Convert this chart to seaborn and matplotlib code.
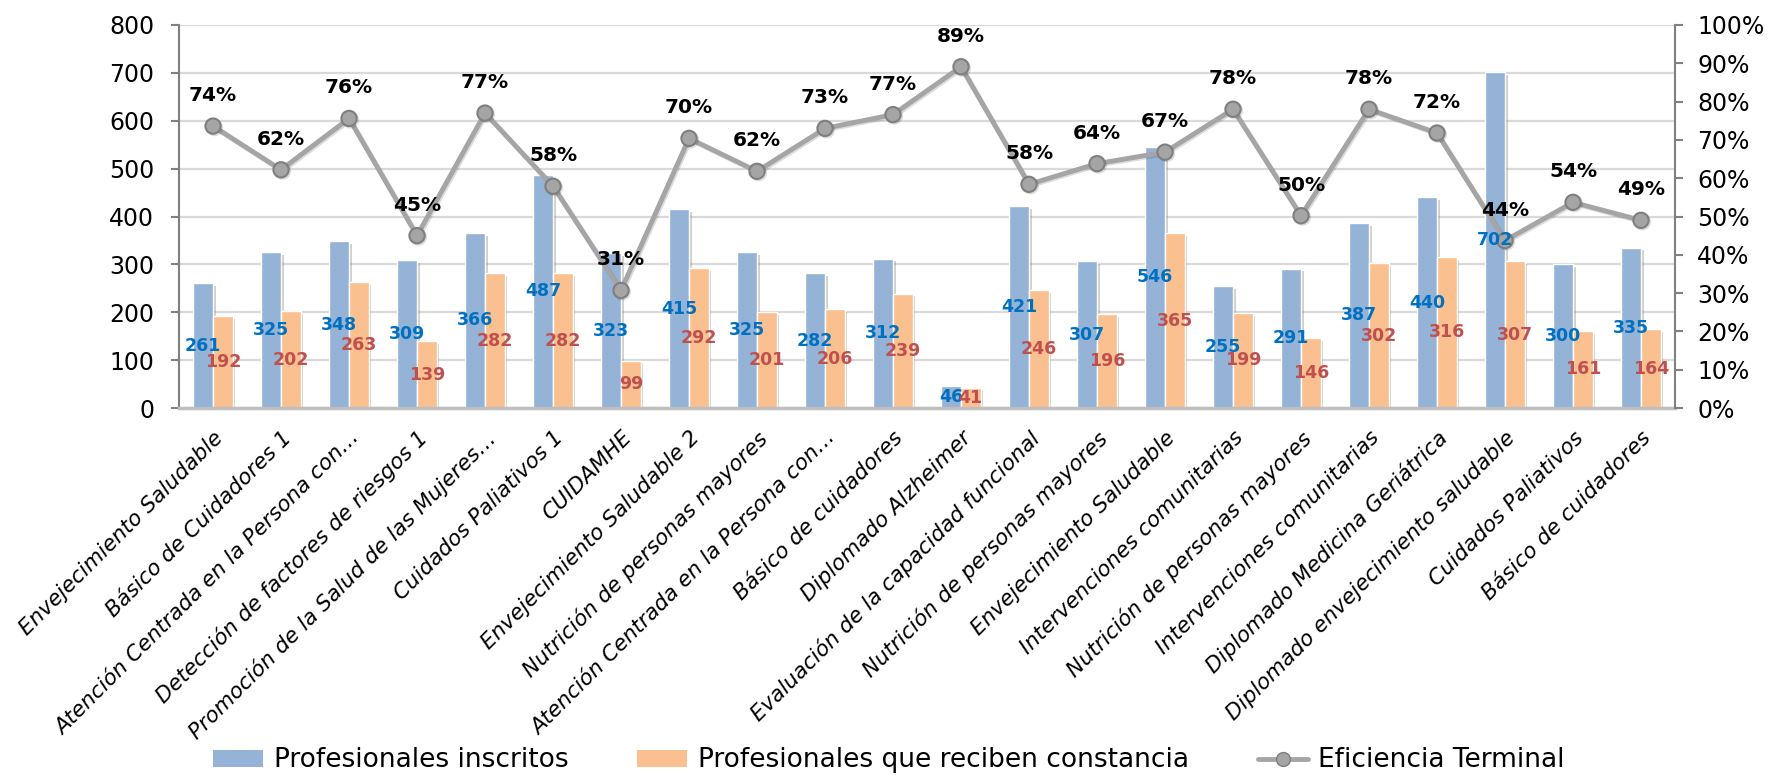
import matplotlib
matplotlib.use("Agg")
import matplotlib.pyplot as plt
import matplotlib.patheffects as pe
from matplotlib.lines import Line2D
from matplotlib.patches import Patch
import seaborn as sns
import pandas as pd

# Data
cursos = [
    "Envejecimiento Saludable",
    "Básico de Cuidadores 1",
    "Atención Centrada en la Persona con…",
    "Detección de factores de riesgos 1",
    "Promoción de la Salud de las Mujeres…",
    "Cuidados Paliativos 1",
    "CUIDAMHE",
    "Envejecimiento Saludable 2",
    "Nutrición de personas mayores",
    "Atención Centrada en la Persona con…",
    "Básico de cuidadores",
    "Diplomado Alzheimer",
    "Evaluación de la capacidad funcional",
    "Nutrición de personas mayores",
    "Envejecimiento Saludable",
    "Intervenciones comunitarias",
    "Nutrición de personas mayores",
    "Intervenciones comunitarias",
    "Diplomado Medicina Geriátrica",
    "Diplomado envejecimiento saludable",
    "Cuidados Paliativos",
    "Básico de cuidadores",
]
inscritos = [261, 325, 348, 309, 366, 487, 323, 415, 325, 282, 312, 46,
             421, 307, 546, 255, 291, 387, 440, 702, 300, 335]
constancia = [192, 202, 263, 139, 282, 282, 99, 292, 201, 206, 239, 41,
              246, 196, 365, 199, 146, 302, 316, 307, 161, 164]
eficiencia = [73.6, 62.2, 75.6, 45.0, 77.0, 57.9, 30.7, 70.4, 61.8, 73.0, 76.6,
              89.1, 58.4, 63.8, 66.8, 78.0, 50.2, 78.0, 71.8, 43.7, 53.7, 49.0]

serie_a = "Profesionales inscritos"
serie_b = "Profesionales que reciben constancia"
serie_c = "Eficiencia Terminal"

azul = "#95B3D7"
naranja = "#FAC090"
gris = "#A5A5A5"

n = len(cursos)
idx = list(range(n))
df = pd.DataFrame({
    "idx": idx * 2,
    "valor": inscritos + constancia,
    "serie": [serie_a] * n + [serie_b] * n,
})
df_line = pd.DataFrame({"idx": idx, "pct": eficiencia})

sns.set_theme(style="white")
plt.rcParams["font.family"] = ["DejaVu Sans"]

fig = plt.figure(figsize=(17.71, 7.76), dpi=100)
ax = fig.add_axes([0.1011, 0.4742, 0.8447, 0.4936])

sns.barplot(data=df, x="idx", y="valor", hue="serie", palette=[azul, naranja],
            width=0.575, gap=0, saturation=1, ax=ax, legend=False, zorder=2)
shadow = [pe.SimplePatchShadow(offset=(2, -2), shadow_rgbFace="#777777", alpha=0.35), pe.Normal()]
for p in ax.patches:
    p.set_path_effects(shadow)

ax.set_ylim(0, 800)
ax.set_xlim(-0.5, n - 0.5)
ax.set_yticks(range(0, 801, 100))
ax.yaxis.grid(True, color="#D9D9D9", linewidth=1.6, zorder=0)
ax.set_axisbelow(True)
ax.set_xlabel("")
ax.set_ylabel("")
ax.tick_params(axis="y", labelsize=17, colors="#808080", labelcolor="black",
               length=6, width=1.5, left=True, pad=12)
ax.tick_params(axis="x", length=0, pad=14, labelcolor="black")
ax.set_xticks(idx)
ax.set_xticklabels(cursos, rotation=45, ha="right", rotation_mode="anchor",
                   fontstyle="italic", fontsize=15.5)
for s in ["top", "right"]:
    ax.spines[s].set_visible(False)
ax.spines["left"].set_color("#808080")
ax.spines["left"].set_linewidth(1.5)
ax.spines["bottom"].set_color("#BFBFBF")
ax.spines["bottom"].set_linewidth(2.5)

# secondary axis: efficiency line
ax2 = ax.twinx()
sns.lineplot(data=df_line, x="idx", y="pct", color=gris, linewidth=3.5, marker="o",
             markersize=11, markerfacecolor=gris, markeredgecolor="#7F7F7F",
             markeredgewidth=1.5, ax=ax2, zorder=4,
             path_effects=[pe.SimpleLineShadow(offset=(1, -1), alpha=0.15), pe.Normal()])
ax2.set_ylim(0, 100)
ax2.set_xlim(-0.5, n - 0.5)
ax2.set_yticks(range(0, 101, 10))
ax2.set_yticklabels([f"{v}%" for v in range(0, 101, 10)])
ax2.set_ylabel("")
ax2.tick_params(axis="y", labelsize=17, colors="#808080", labelcolor="black",
                length=6, width=1.5, right=True, pad=10)
for s in ["top", "left", "bottom"]:
    ax2.spines[s].set_visible(False)
ax2.spines["right"].set_color("#808080")
ax2.spines["right"].set_linewidth(1.5)

# value labels centred inside the bars (drawn with ax2 so they sit above the line)
bw = 0.575 / 2
for i in idx:
    ax2.text(i - bw / 2, inscritos[i] / 2, str(inscritos[i]), ha="center", va="center",
             fontsize=12.5, fontweight="bold", color="#0070C0", zorder=6,
             transform=ax.transData)
    ax2.text(i + bw / 2, constancia[i] / 2, str(constancia[i]), ha="center", va="center",
             fontsize=12.5, fontweight="bold", color="#C0504D", zorder=6,
             transform=ax.transData)

for i in idx:
    ax2.annotate(f"{round(eficiencia[i])}%", (i, eficiencia[i]), xytext=(0, 22),
                 textcoords="offset points", ha="center", va="center",
                 fontsize=14.5, fontweight="bold", color="black", zorder=6)

handles = [
    Patch(facecolor=azul, edgecolor="none"),
    Patch(facecolor=naranja, edgecolor="none"),
    Line2D([0], [0], color=gris, linewidth=3.5, marker="o", markersize=10,
           markerfacecolor=gris, markeredgecolor="#7F7F7F"),
]
fig.legend(handles, [serie_a, serie_b, serie_c], loc="center",
           bbox_to_anchor=(0.502, 0.02), ncol=3, frameon=False, fontsize=19,
           handlelength=1.9, handleheight=0.6, columnspacing=2.6, handletextpad=0.4,
           labelcolor="black")

fig.savefig("out.png", dpi=100)
